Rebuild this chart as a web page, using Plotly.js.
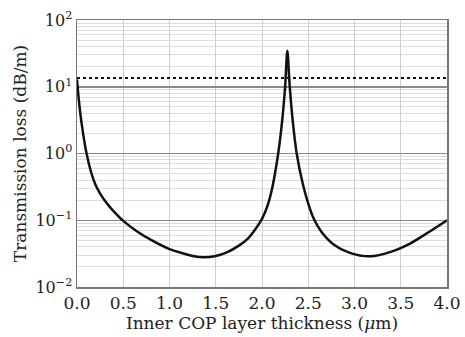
<!DOCTYPE html>
<html>
<head>
<meta charset="utf-8">
<script src="https://cdn.plot.ly/plotly-3.0.1.min.js"></script>
<style>html,body{margin:0;padding:0;background:#fff;}#chart{width:465px;height:337px;}</style>
</head>
<body>
<div id="chart"></div>
<script>
// Inner COP layer thickness (µm)
const thickness = [0, 0.02, 0.05, 0.10, 0.15, 0.20, 0.25, 0.33, 0.42, 0.50, 0.65, 0.82, 1.0, 1.11, 1.25, 1.37, 1.50, 1.62, 1.75, 1.85, 1.93, 2.0, 2.06, 2.11, 2.175, 2.215, 2.25, 2.274, 2.30, 2.335, 2.375, 2.44, 2.50, 2.56, 2.64, 2.77, 2.95, 3.17, 3.40, 3.60, 3.80, 4.0];
// Transmission loss (dB/m)
const loss = [12.9, 6.3, 2.82, 1.05, 0.537, 0.339, 0.251, 0.174, 0.126, 0.098, 0.068, 0.049, 0.037, 0.033, 0.0292, 0.0279, 0.0292, 0.0331, 0.0417, 0.0537, 0.0741, 0.105, 0.166, 0.302, 1.0, 2.82, 10, 34.7, 10, 2.82, 1.0, 0.355, 0.178, 0.105, 0.0676, 0.0437, 0.0324, 0.0288, 0.0339, 0.0447, 0.066, 0.1];
// Reference level (dotted line)
const refX = [0, 4];
const refLoss = [13.5, 13.5];
// Axis ticks
const xTicks = [0, 0.5, 1, 1.5, 2, 2.5, 3, 3.5, 4];
const xTickText = ['0.0', '0.5', '1.0', '1.5', '2.0', '2.5', '3.0', '3.5', '4.0'];
const yTicks = [0.01, 0.1, 1, 10, 100];
const yTickText = ['10<sup>−2</sup>', '10<sup>−1</sup>', '10<sup>0</sup>', '10<sup>1</sup>', '10<sup>2</sup>'];

const minorVals = [];
for (let e = -2; e < 2; e++) for (let d = 2; d <= 9; d++) minorVals.push(d * Math.pow(10, e));

const font = 'DejaVu Serif, Liberation Serif, serif';
const traces = [
  {x: refX, y: refLoss, mode: 'lines', line: {color: '#111', width: 2, dash: 'dot'}, hoverinfo: 'skip'},
  {x: thickness, y: loss, mode: 'lines', line: {color: '#111', width: 2.5, shape: 'spline', smoothing: 0.8}}
];
const layout = {
  width: 465, height: 337,
  margin: {l: 77, r: 18, t: 20, b: 50},
  paper_bgcolor: '#fff', plot_bgcolor: '#fff',
  showlegend: false,
  font: {family: font, color: '#222', size: 16},
  xaxis: {
    range: [0, 4], tickvals: xTicks, ticktext: xTickText, ticks: '',
    showgrid: true, gridcolor: '#cfcfcf', gridwidth: 1, zeroline: false,
    showline: true, mirror: true, linecolor: '#777', linewidth: 1.5,
    tickfont: {size: 17, family: font, color: '#222'},
    title: {text: 'Inner COP layer thickness (<i>μ</i>m)', font: {size: 17, family: font, color: '#222'}, standoff: 2},
    automargin: false
  },
  yaxis: {
    type: 'log', range: [-2, 2], tickvals: yTicks, ticktext: yTickText, ticks: '',
    showgrid: true, gridcolor: '#8a8a8a', gridwidth: 1.5, zeroline: false,
    showline: true, mirror: true, linecolor: '#777', linewidth: 1.5,
    tickfont: {size: 16, family: font, color: '#222'},
    minor: {tickmode: 'array', tickvals: minorVals, showgrid: true, gridcolor: '#dcdcdc', gridwidth: 1, ticks: ''},
    title: {text: 'Transmission loss (dB/m)', font: {size: 17, family: font, color: '#222'}, standoff: 4},
    automargin: false
  }
};
Plotly.newPlot('chart', traces, layout, {displayModeBar: false, staticPlot: true});
</script>
</body>
</html>
